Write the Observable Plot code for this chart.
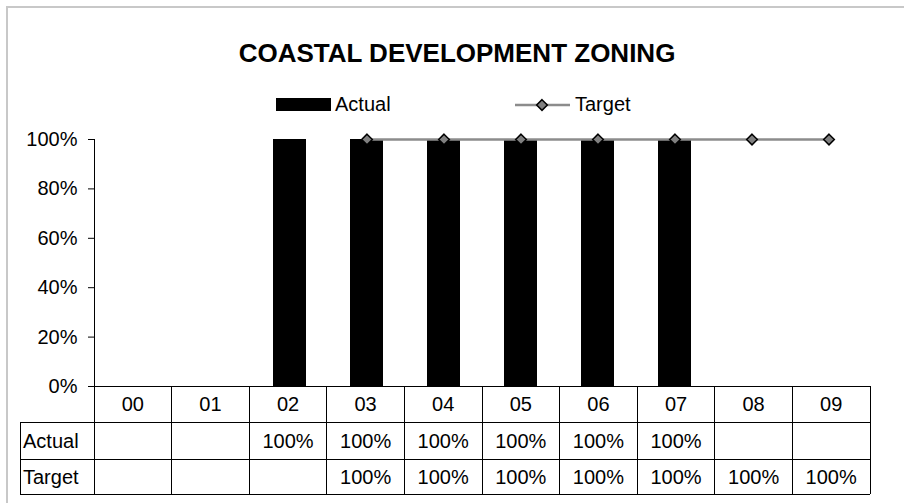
<!DOCTYPE html>
<html>
<head>
<meta charset="utf-8">
<script src="https://cdn.jsdelivr.net/npm/d3@7"></script>
<script src="https://cdn.jsdelivr.net/npm/@observablehq/plot@0.6"></script>
<style>
  html, body { margin: 0; padding: 0; background: #fff; }
  #root { position: relative; width: 904px; height: 503px; overflow: hidden; font-family: "Liberation Sans", Arial, sans-serif; }
  #border { position: absolute; left: 6px; top: 6px; width: 1200px; height: 1200px; border-top: 2px solid #c8c8c8; border-left: 2px solid #c8c8c8; box-sizing: border-box; }
  #plot { position: absolute; left: 0; top: 120px; }
  #overlay { position: absolute; left: 0; top: 0; }
</style>
</head>
<body>
<div id="root">
  <div id="border"></div>
  <div id="plot"></div>
</div>
<script>
// ---- data ----
const title = "COASTAL DEVELOPMENT ZONING";
const years = ["00", "01", "02", "03", "04", "05", "06", "07", "08", "09"];
const actual = [null, null, 1, 1, 1, 1, 1, 1, null, null];
const target = [null, null, null, 1, 1, 1, 1, 1, 1, 1];
const yTicks = [0, 0.2, 0.4, 0.6, 0.8, 1];
const seriesNames = ["Actual", "Target"];

const rows = years.map((year, i) => ({year, actual: actual[i], target: target[i]}));
const pct = v => v == null ? "" : Math.round(v * 100) + "%";

// ---- layout ----
const W = 904, plotTop = 120;
const mLeft = 94, mRight = 34, mTop = 19, mBottom = 37, plotH = 303;
const fontSize = 20;

const chart = Plot.plot({
  width: W,
  height: plotH,
  marginLeft: mLeft,
  marginRight: mRight,
  marginTop: mTop,
  marginBottom: mBottom,
  style: {background: "transparent", fontFamily: '"Liberation Sans", Arial, sans-serif', fontSize: fontSize + "px", color: "#000"},
  x: {domain: years, paddingInner: 0.57, paddingOuter: 0.285, axis: null},
  y: {domain: [0, 1]},
  marks: [
    Plot.axisY({ticks: yTicks, tickFormat: pct, tickSize: 6, tickPadding: 11, fontSize: fontSize, stroke: "#000", fill: "#000", label: null}),
    Plot.barY(rows.filter(d => d.actual != null), {x: "year", y: "actual", fill: "#000"}),
    Plot.lineY(rows.filter(d => d.target != null), {x: "year", y: "target", stroke: "#8c8c8c", strokeWidth: 2.5}),
    Plot.dot(rows.filter(d => d.target != null), {x: "year", y: "target", symbol: "diamond2", r: 4.8, fill: "#808080", stroke: "#000", strokeWidth: 1.5}),
    Plot.frame({anchor: "left", stroke: "#000"}),
    Plot.ruleY([0], {stroke: "#000"})
  ]
});
document.getElementById("plot").appendChild(chart);

// ---- title, legend and data table (overlay) ----
const step = (W - mLeft - mRight) / years.length;
const colLeft = i => mLeft + i * step;
const tableLeft = 20;
const rowEdges = [plotTop + plotH - mBottom, 422, 459, 494];

const svg = d3.select("#root").append("svg")
  .attr("id", "overlay").attr("width", W).attr("height", 503)
  .style("font-family", '"Liberation Sans", Arial, sans-serif');

svg.append("text").attr("x", 457).attr("y", 62).attr("text-anchor", "middle")
  .attr("font-size", 26).attr("font-weight", "bold").text(title);

// legend
const lg = svg.append("g");
lg.append("rect").attr("x", 276).attr("y", 98).attr("width", 55).attr("height", 13).attr("fill", "#000");
lg.append("text").attr("x", 335).attr("y", 111).attr("font-size", fontSize).text(seriesNames[0]);
lg.append("line").attr("x1", 515).attr("x2", 570).attr("y1", 105).attr("y2", 105).attr("stroke", "#8c8c8c").attr("stroke-width", 2.5);
lg.append("path").attr("d", d3.symbol(d3.symbolDiamond2, Math.PI * 4.8 * 4.8)()).attr("transform", "translate(542,105)")
  .attr("fill", "#808080").attr("stroke", "#000").attr("stroke-width", 1.5);
lg.append("text").attr("x", 575).attr("y", 111).attr("font-size", fontSize).text(seriesNames[1]);

// table lines
const tg = svg.append("g").attr("stroke", "#000").attr("stroke-width", 1).attr("shape-rendering", "crispEdges");
for (let i = 0; i <= years.length; i++) {
  tg.append("line").attr("x1", colLeft(i)).attr("x2", colLeft(i)).attr("y1", rowEdges[0]).attr("y2", rowEdges[3]);
}
for (let r = 1; r < rowEdges.length; r++) {
  tg.append("line").attr("x1", tableLeft).attr("x2", colLeft(years.length)).attr("y1", rowEdges[r]).attr("y2", rowEdges[r]);
}
tg.append("line").attr("x1", tableLeft).attr("x2", tableLeft).attr("y1", rowEdges[1]).attr("y2", rowEdges[3]);

// table text
const txt = svg.append("g").attr("font-size", fontSize).attr("fill", "#000");
const rowMid = r => (rowEdges[r] + rowEdges[r + 1]) / 2;
years.forEach((y, i) => {
  const cx = colLeft(i) + step / 2;
  txt.append("text").attr("x", cx).attr("y", rowMid(0)).attr("dy", "0.35em").attr("text-anchor", "middle").text(y);
  txt.append("text").attr("x", cx).attr("y", rowMid(1)).attr("dy", "0.35em").attr("text-anchor", "middle").text(pct(actual[i]));
  txt.append("text").attr("x", cx).attr("y", rowMid(2)).attr("dy", "0.35em").attr("text-anchor", "middle").text(pct(target[i]));
});
seriesNames.forEach((n, r) => {
  txt.append("text").attr("x", tableLeft + 3).attr("y", rowMid(r + 1)).attr("dy", "0.35em").text(n);
});
</script>
</body>
</html>
